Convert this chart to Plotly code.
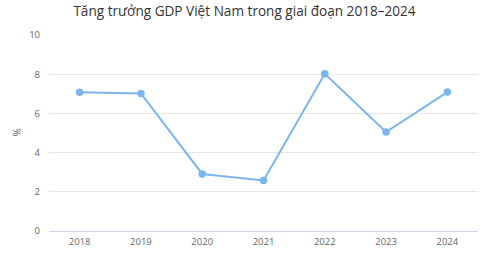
import plotly.graph_objects as go

years = ["2018", "2019", "2020", "2021", "2022", "2023", "2024"]
gdp_growth = [7.08, 7.02, 2.91, 2.58, 8.02, 5.05, 7.09]
y_ticks = [0, 2, 4, 6, 8, 10]

fig = go.Figure()
fig.add_trace(go.Scatter(
    x=years, y=gdp_growth, mode="lines+markers",
    line=dict(color="#7cb5ec", width=2),
    marker=dict(color="#7cb5ec", size=7.5),
    hoverinfo="x+y",
))

font = "Open Sans, DejaVu Sans, sans-serif"
L, R, T, B = 49, 2, 35, 22
pw = 480 - L - R
fig.update_layout(
    width=480, height=253,
    margin=dict(l=L, r=R, t=T, b=B),
    paper_bgcolor="white", plot_bgcolor="white",
    showlegend=False,
    font=dict(family=font, color="#666666", size=10),
    title=dict(text="Tăng trưởng GDP Việt Nam trong giai đoạn 2018–2024",
               x=244.5 / 480, xanchor="center", y=1 - 11 / 253, yanchor="middle",
               font=dict(family=font, size=13.6, color="#333333")),
    xaxis=dict(type="category", showgrid=False, showline=True, linecolor="#ccd6eb",
               linewidth=1, ticks="", tickfont=dict(size=9.5, color="#666666"),
               range=[-0.5, 6.5], ticklabelstandoff=2),
    yaxis=dict(range=[0, 10], tickvals=y_ticks, showgrid=True, gridcolor="#e6e6e6",
               gridwidth=1, zeroline=False, showline=False, ticks="",
               tickfont=dict(size=9.5, color="#666666"), ticklabelstandoff=8),
    annotations=[dict(text="%", xref="paper", yref="paper",
                      x=(16.5 - L) / pw, y=(253 - B - 133) / (253 - T - B),
                      xanchor="center", yanchor="middle", textangle=-90,
                      showarrow=False, font=dict(size=10, color="#666666"))],
)
fig.write_html("out.html")
